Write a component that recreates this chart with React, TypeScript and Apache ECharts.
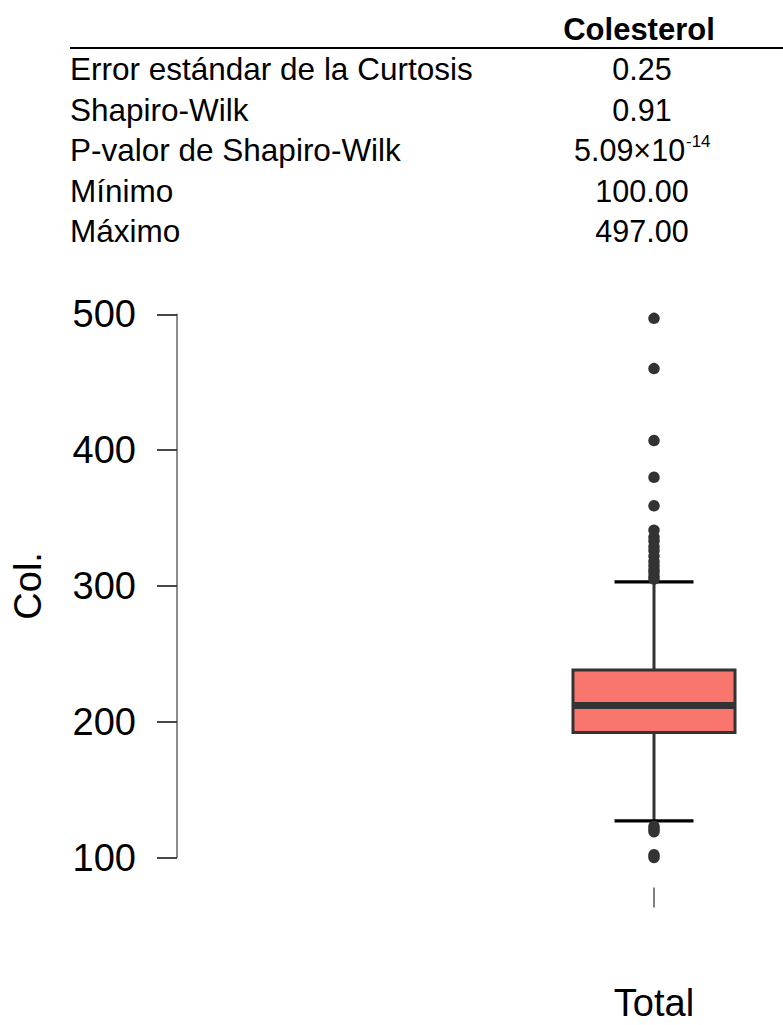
import React, { useEffect, useRef } from "react";
import * as echarts from "echarts";

// ---- Table data ----
const tableHeader = "Colesterol";
const statLabels = [
  "Error estándar de la Curtosis",
  "Shapiro-Wilk",
  "P-valor de Shapiro-Wilk",
  "Mínimo",
  "Máximo",
];
const statValues = ["0.25", "0.91", "5.09×10", "100.00", "497.00"];
const statSuperscripts = ["", "", "-14", "", ""];

// ---- Plot data ----
const categories = ["Total"];
const yTicks = { min: 100, max: 500, interval: 100 };
// [lower whisker, Q1, median, Q3, upper whisker]
const boxStats = [[127, 192, 212, 238, 303]];
const outliers = [
  497, 460, 407, 380, 359, 341, 336, 333, 329, 326, 322, 318, 315, 312, 310,
  307, 305, 123, 121, 119, 102, 100,
];
const yAxisName = "Col.";

const FONT = "'Liberation Sans', Arial, Helvetica, sans-serif";

export default function App() {
  const ref = useRef<HTMLDivElement>(null);

  useEffect(() => {
    if (!ref.current) return;
    const chart = echarts.init(ref.current, undefined, { renderer: "svg" });

    const rowY = [69, 110, 150, 191, 231];
    const valueCenterX = 642;
    const graphics: any[] = [
      {
        type: "text",
        x: 639,
        y: 29,
        style: {
          text: tableHeader,
          font: `bold 31px ${FONT}`,
          fill: "#000",
          textAlign: "center",
          textVerticalAlign: "middle",
        },
      },
      {
        type: "line",
        shape: { x1: 70, y1: 48, x2: 783, y2: 48 },
        style: { stroke: "#000", lineWidth: 2 },
      },
    ];
    statLabels.forEach((lab, i) => {
      graphics.push({
        type: "text",
        x: 70,
        y: rowY[i],
        style: {
          text: lab,
          font: `31.5px ${FONT}`,
          fill: "#000",
          textAlign: "left",
          textVerticalAlign: "middle",
        },
      });
      if (statSuperscripts[i]) {
        const mainW = 111;
        const supW = 25;
        const startX = valueCenterX - (mainW + supW) / 2;
        graphics.push({
          type: "text",
          x: startX,
          y: rowY[i],
          style: {
            text: statValues[i],
            font: `30.5px ${FONT}`,
            fill: "#000",
            textAlign: "left",
            textVerticalAlign: "middle",
          },
        });
        graphics.push({
          type: "text",
          x: startX + mainW + 1,
          y: rowY[i] - 9,
          style: {
            text: statSuperscripts[i],
            font: `17px ${FONT}`,
            fill: "#000",
            textAlign: "left",
            textVerticalAlign: "middle",
          },
        });
      } else {
        graphics.push({
          type: "text",
          x: valueCenterX,
          y: rowY[i],
          style: {
            text: statValues[i],
            font: `30.5px ${FONT}`,
            fill: "#000",
            textAlign: "center",
            textVerticalAlign: "middle",
          },
        });
      }
    });

    const option: any = {
      animation: false,
      backgroundColor: "#fff",
      textStyle: { fontFamily: FONT },
      graphic: graphics,
      grid: { left: 525, top: 314.3, width: 258, height: 543.2, containLabel: false },
      xAxis: {
        type: "category",
        data: categories,
        offset: 30,
        axisLine: { show: false },
        axisTick: {
          show: true,
          alignWithLabel: true,
          length: 20,
          lineStyle: { color: "#555", width: 1.5 },
        },
        axisLabel: {
          margin: 96,
          fontSize: 38,
          lineHeight: 38,
          color: "#000",
          fontFamily: FONT,
        },
        splitLine: { show: false },
      },
      yAxis: {
        type: "value",
        min: yTicks.min,
        max: yTicks.max,
        interval: yTicks.interval,
        offset: 348,
        position: "left",
        axisLine: { show: true, lineStyle: { color: "#666", width: 1.5 } },
        axisTick: { show: true, length: 20, lineStyle: { color: "#333", width: 1.8 } },
        axisLabel: { margin: 41, fontSize: 38, color: "#000", fontFamily: FONT },
        splitLine: { show: false },
        name: yAxisName,
        nameLocation: "middle",
        nameRotate: 90,
        nameGap: 130,
        nameTextStyle: { fontSize: 38, color: "#000", fontFamily: FONT },
      },
      series: [
        {
          type: "custom",
          clip: false,
          data: boxStats.map((s, i) => [i, ...s]),
          encode: { x: 0, y: [1, 2, 3, 4, 5] },
          renderItem: (params: any, api: any) => {
            const x = api.value(0);
            const lo = api.coord([x, api.value(1)]);
            const q1 = api.coord([x, api.value(2)]);
            const med = api.coord([x, api.value(3)]);
            const q3 = api.coord([x, api.value(4)]);
            const hi = api.coord([x, api.value(5)]);
            const band = api.size([1, 0])[0];
            const bw = band * 0.628;
            const cw = band * 0.306;
            const cx = lo[0];
            const stroke = "#333";
            return {
              type: "group",
              children: [
                {
                  type: "line",
                  shape: { x1: cx, y1: hi[1], x2: cx, y2: q3[1] },
                  style: { stroke, lineWidth: 3 },
                },
                {
                  type: "line",
                  shape: { x1: cx, y1: q1[1], x2: cx, y2: lo[1] },
                  style: { stroke, lineWidth: 3 },
                },
                {
                  type: "line",
                  shape: { x1: cx - cw / 2, y1: hi[1], x2: cx + cw / 2, y2: hi[1] },
                  style: { stroke: "#000", lineWidth: 3.2 },
                },
                {
                  type: "line",
                  shape: { x1: cx - cw / 2, y1: lo[1], x2: cx + cw / 2, y2: lo[1] },
                  style: { stroke: "#000", lineWidth: 3.2 },
                },
                {
                  type: "rect",
                  shape: { x: cx - bw / 2, y: q3[1], width: bw, height: q1[1] - q3[1] },
                  style: { fill: "#F8766D", stroke, lineWidth: 3 },
                },
                {
                  type: "line",
                  shape: { x1: cx - bw / 2, y1: med[1], x2: cx + bw / 2, y2: med[1] },
                  style: { stroke, lineWidth: 7 },
                },
              ],
            };
          },
          z: 2,
        },
        {
          type: "scatter",
          clip: false,
          data: outliers.map((v) => [0, v]),
          symbol: "circle",
          symbolSize: 11.5,
          itemStyle: { color: "#333", opacity: 1 },
          z: 3,
        },
      ],
    };

    chart.setOption(option);
    return () => chart.dispose();
  }, []);

  return (
    <div
      ref={ref}
      style={{ position: "fixed", left: 0, top: 0, width: 783, height: 1025, background: "#fff" }}
    />
  );
}
